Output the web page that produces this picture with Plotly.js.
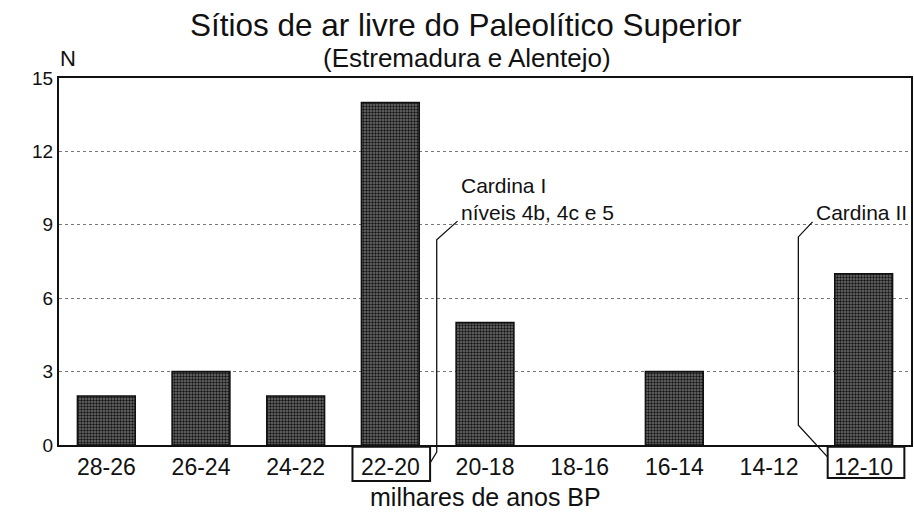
<!DOCTYPE html>
<html><head><meta charset="utf-8">
<script src="https://cdn.plot.ly/plotly-3.0.1.min.js"></script>
<style>body{margin:0;background:#fff}#c{width:914px;height:515px}</style>
</head><body><div id="c"></div>
<script>
const categories = ['28-26','26-24','24-22','22-20','20-18','18-16','16-14','14-12','12-10'];
const counts = [2, 3, 2, 14, 5, 0, 3, 0, 7];
const yTicks = [0, 3, 6, 9, 12, 15];
const titleText = 'Sítios de ar livre do Paleolítico Superior';
const subtitleText = '(Estremadura e Alentejo)';
const xTitle = 'milhares de anos BP';
const yTitle = 'N';
const noteCardinaI = 'Cardina I<br>níveis 4b, 4c e 5';
const noteCardinaII = 'Cardina II';

const F = 'Liberation Sans, Arial, Helvetica, sans-serif';

const trace = {
  type: 'bar', x: categories, y: counts, width: 0.61,
  marker: {
    color: '#444',
    line: {color: '#111', width: counts.map(v => v > 0 ? 1.6 : 0)},
    pattern: {shape: '.', fgcolor: '#161616', bgcolor: '#707070', size: 3, solidity: 0.5}
  },
  hoverinfo: 'skip'
};

const layout = {
  width: 914, height: 515,
  margin: {l: 59, r: 3, t: 78, b: 70},
  paper_bgcolor: '#fff', plot_bgcolor: '#fff',
  showlegend: false,
  font: {family: F, color: '#111'},
  xaxis: {
    type: 'category', range: [-0.5, 8.5],
    showline: true, linecolor: '#111', linewidth: 2, mirror: true,
    ticks: '', tickfont: {size: 23, family: F, color: '#111'},
    showgrid: false, zeroline: false, fixedrange: true
  },
  yaxis: {
    range: [0, 15], tickvals: yTicks, ticktext: yTicks.map(String),
    showline: true, linecolor: '#111', linewidth: 2, mirror: true,
    ticks: '', tickfont: {size: 19, family: F, color: '#111'},
    showgrid: true, gridcolor: '#777', griddash: 'dot', gridwidth: 1,
    zeroline: false, fixedrange: true
  },
  annotations: [
    {text: titleText, xref: 'paper', yref: 'paper', x: 0.478, y: 1.0, yshift: 53, xanchor: 'center', yanchor: 'middle', showarrow: false, font: {size: 31.5, family: F, color: '#111'}},
    {text: subtitleText, xref: 'paper', yref: 'paper', x: 0.479, y: 1.0, yshift: 20, xanchor: 'center', yanchor: 'middle', showarrow: false, font: {size: 26, family: F, color: '#111'}},
    {text: yTitle, xref: 'paper', yref: 'paper', x: 0, xshift: 9, y: 1.0, yshift: 20, xanchor: 'center', yanchor: 'middle', showarrow: false, font: {size: 22, family: F, color: '#111'}},
    {text: xTitle, xref: 'paper', yref: 'paper', x: 0.501, y: 0, yshift: -52, xanchor: 'center', yanchor: 'middle', showarrow: false, font: {size: 25, family: F, color: '#111'}},
    {text: noteCardinaI, xref: 'x', yref: 'y', x: 3.73, y: 8.95, xanchor: 'left', yanchor: 'bottom', align: 'left', showarrow: false, font: {size: 21, family: F, color: '#111'}},
    {text: noteCardinaII, xref: 'x', yref: 'y', x: 7.98, y: 8.95, xanchor: 'center', yanchor: 'bottom', showarrow: false, font: {size: 21, family: F, color: '#111'}}
  ],
  shapes: [
    {type: 'rect', xref: 'x', yref: 'paper', x0: 2.6, x1: 3.42, y0: -0.098, y1: -0.005, line: {color: '#111', width: 2}},
    {type: 'rect', xref: 'x', yref: 'paper', x0: 7.62, x1: 8.43, y0: -0.09, y1: -0.005, line: {color: '#111', width: 2}},
    {type: 'path', xref: 'x', yref: 'paper', path: 'M 3.42 -0.049 L 3.49 -0.019 L 3.49 0.559 L 3.71 0.61', line: {color: '#111', width: 1.3}},
    {type: 'path', xref: 'x', yref: 'paper', path: 'M 7.62 -0.033 L 7.31 0.054 L 7.31 0.567 L 7.46 0.608', line: {color: '#111', width: 1.3}}
  ]
};

Plotly.newPlot('c', [trace], layout, {displayModeBar: false, staticPlot: true});
</script></body></html>
